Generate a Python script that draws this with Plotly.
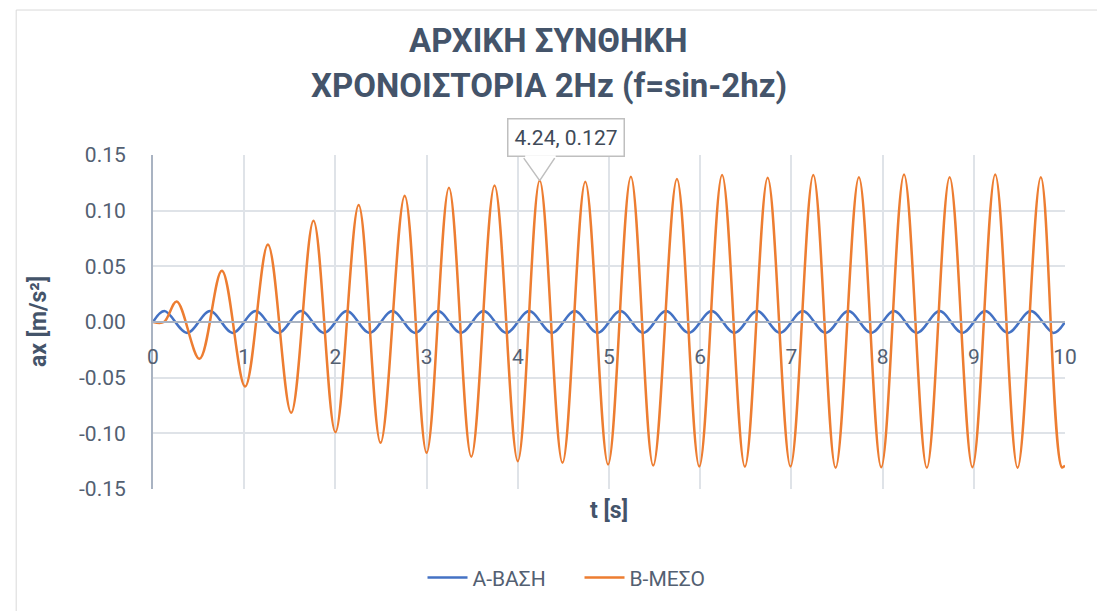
import plotly.graph_objects as go

# Time-history extrema (t [s], ax [m/s²]) of the two recorded series
base_t = [0.0, 0.125, 0.375, 0.625, 0.875, 1.125, 1.375, 1.625, 1.875, 2.125, 2.375,
          2.625, 2.875, 3.125, 3.375, 3.625, 3.875, 4.125, 4.375, 4.625, 4.875,
          5.125, 5.375, 5.625, 5.875, 6.125, 6.375, 6.625, 6.875, 7.125, 7.375,
          7.625, 7.875, 8.125, 8.375, 8.625, 8.875, 9.125, 9.375, 9.625, 9.875, 10.0]
base_a = [0.0, 0.0098, -0.0098, 0.0098, -0.0098, 0.0098, -0.0098, 0.0098, -0.0098, 0.0098, -0.0098,
          0.0098, -0.0098, 0.0098, -0.0098, 0.0098, -0.0098, 0.0098, -0.0098, 0.0098, -0.0098,
          0.0098, -0.0098, 0.0098, -0.0098, 0.0098, -0.0098, 0.0098, -0.0098, 0.0098, -0.0098,
          0.0098, -0.0098, 0.0098, -0.0098, 0.0098, -0.0098, 0.0098, -0.0098, 0.0098, -0.0098, 0.0]

mid_t = [0.0, 0.12, 0.26, 0.51, 0.755, 1.01, 1.26, 1.515, 1.76, 2.0, 2.255,
         2.495, 2.76, 3.0, 3.245, 3.49, 3.745, 4.0, 4.24, 4.49, 4.74,
         4.99, 5.24, 5.485, 5.745, 5.99, 6.24, 6.49, 6.74, 6.99, 7.24,
         7.485, 7.74, 7.985, 8.235, 8.485, 8.735, 8.985, 9.235, 9.48, 9.735,
         9.965, 10.0]
mid_a = [0.0, 0.0, 0.0185, -0.033, 0.046, -0.058, 0.0695, -0.0815, 0.091, -0.099, 0.105,
         -0.1085, 0.1135, -0.1175, 0.1205, -0.121, 0.1225, -0.125, 0.127, -0.1265, 0.126,
         -0.128, 0.1305, -0.129, 0.1285, -0.1298, 0.132, -0.130, 0.1295, -0.1298, 0.132,
         -0.131, 0.130, -0.1304, 0.1325, -0.131, 0.130, -0.1304, 0.1325, -0.131, 0.130,
         -0.1305, -0.129]

x_ticks = [0, 1, 2, 3, 4, 5, 6, 7, 8, 9, 10]
y_ticks = [-0.15, -0.10, -0.05, 0.00, 0.05, 0.10, 0.15]
y_tick_labels = ["-0.15", "-0.10", "-0.05", "0.00", "0.05", "0.10", "0.15"]

title_lines = ["ΑΡΧΙΚΗ ΣΥΝΘΗΚΗ", "ΧΡΟΝΟΙΣΤΟΡΙΑ 2Hz (f=sin-2hz)"]

# Highlighted point on the ΜΕΣΟ series
mark_t, mark_a = 4.24, 0.127

FONT = "Roboto"
TEXT = "#44546a"
TICK = "#536072"
GRID = "#dfe3e8"
AXIS = "#a9b3c2"

# page-centre x expressed in plot-area (paper) units
PAGE_MID = (548.5 - 153) / 912

fig = go.Figure()
fig.add_trace(go.Scatter(x=base_t, y=base_a, mode="lines", name="Α-ΒΑΣΗ",
                         line=dict(color="#4472c4", width=2.5, shape="spline", smoothing=1)))
fig.add_trace(go.Scatter(x=mid_t, y=mid_a, mode="lines", name="Β-ΜΕΣΟ",
                         line=dict(color="#ed7d31", width=2.5, shape="spline", smoothing=1)))

# two-line chart title
for line, ypos in zip(title_lines, (1.344, 1.2066)):
    fig.add_annotation(x=PAGE_MID, y=ypos, xref="paper", yref="paper", xanchor="center",
                       yanchor="middle", text=f"<b>{line}</b>", showarrow=False,
                       font=dict(family=FONT, size=33, color=TEXT))

# callout box with a V pointer down to the highlighted point
fig.add_annotation(x=mark_t, y=mark_a, xref="x", yref="y", text=f"{mark_t}, {mark_a}",
                   showarrow=False, yanchor="bottom", xanchor="center", xshift=26, yshift=24,
                   font=dict(family=FONT, size=21, color="#404a58"),
                   bgcolor="white", bordercolor="#bfbfbf", borderwidth=1.5, borderpad=6)
fig.add_annotation(x=mark_t, y=mark_a, xref="x", yref="y", text="", showarrow=True,
                   xshift=16, yshift=24, ax=-32, ay=0, arrowhead=0, arrowwidth=2.5,
                   arrowcolor="white", standoff=0, startstandoff=0)
for dx in (-17, 16):
    fig.add_annotation(x=mark_t, y=mark_a, xref="x", yref="y", text="", showarrow=True,
                       ax=dx, ay=-24, arrowhead=0, arrowwidth=1.5, arrowcolor="#bfbfbf",
                       standoff=0, startstandoff=0)

# axis titles
fig.add_annotation(x=-0.126, y=0.5, xref="paper", yref="paper", text="<b>ax [m/s²]</b>",
                   textangle=-90, showarrow=False, xanchor="center", yanchor="middle",
                   font=dict(family=FONT, size=23, color=TEXT))
fig.add_annotation(x=0.5, y=-0.063, xref="paper", yref="paper", text="<b>t [s]</b>",
                   showarrow=False, xanchor="center", yanchor="middle",
                   font=dict(family=FONT, size=23, color=TEXT))

# chart-area frame
fig.add_shape(type="rect", xref="paper", yref="paper", x0=-0.150, x1=1.2, y0=-1.0, y1=1.434,
              line=dict(color="#d9d9d9", width=1), fillcolor="rgba(0,0,0,0)", layer="below")

fig.update_layout(
    width=1097, height=611,
    margin=dict(l=153, r=32, t=155, b=122, autoexpand=False),
    paper_bgcolor="white", plot_bgcolor="white",
    legend=dict(orientation="h", x=PAGE_MID + 0.034, xanchor="center", y=-0.266, yanchor="middle",
                font=dict(family=FONT, size=21, color=TICK), itemwidth=40,
                entrywidth=102, entrywidthmode="pixels",
                bgcolor="rgba(0,0,0,0)"),
    showlegend=True,
    hovermode=False,
)
fig.update_xaxes(range=[0, 10], tickvals=x_ticks, ticks="", anchor="free", position=0.5,
                 showgrid=True, gridcolor=GRID, gridwidth=1.5,
                 showline=True, linecolor=AXIS, linewidth=2, zeroline=False,
                 ticklabelstandoff=16, automargin=False,
                 tickfont=dict(family=FONT, size=21, color=TICK))
fig.update_yaxes(range=[-0.15, 0.15], tickvals=y_ticks, ticktext=y_tick_labels, ticks="",
                 showgrid=True, gridcolor=GRID, gridwidth=1.5,
                 showline=True, linecolor=AXIS, linewidth=2, zeroline=False,
                 ticklabelstandoff=21, automargin=False,
                 tickfont=dict(family=FONT, size=21, color=TICK))

fig.write_html("out.html")
